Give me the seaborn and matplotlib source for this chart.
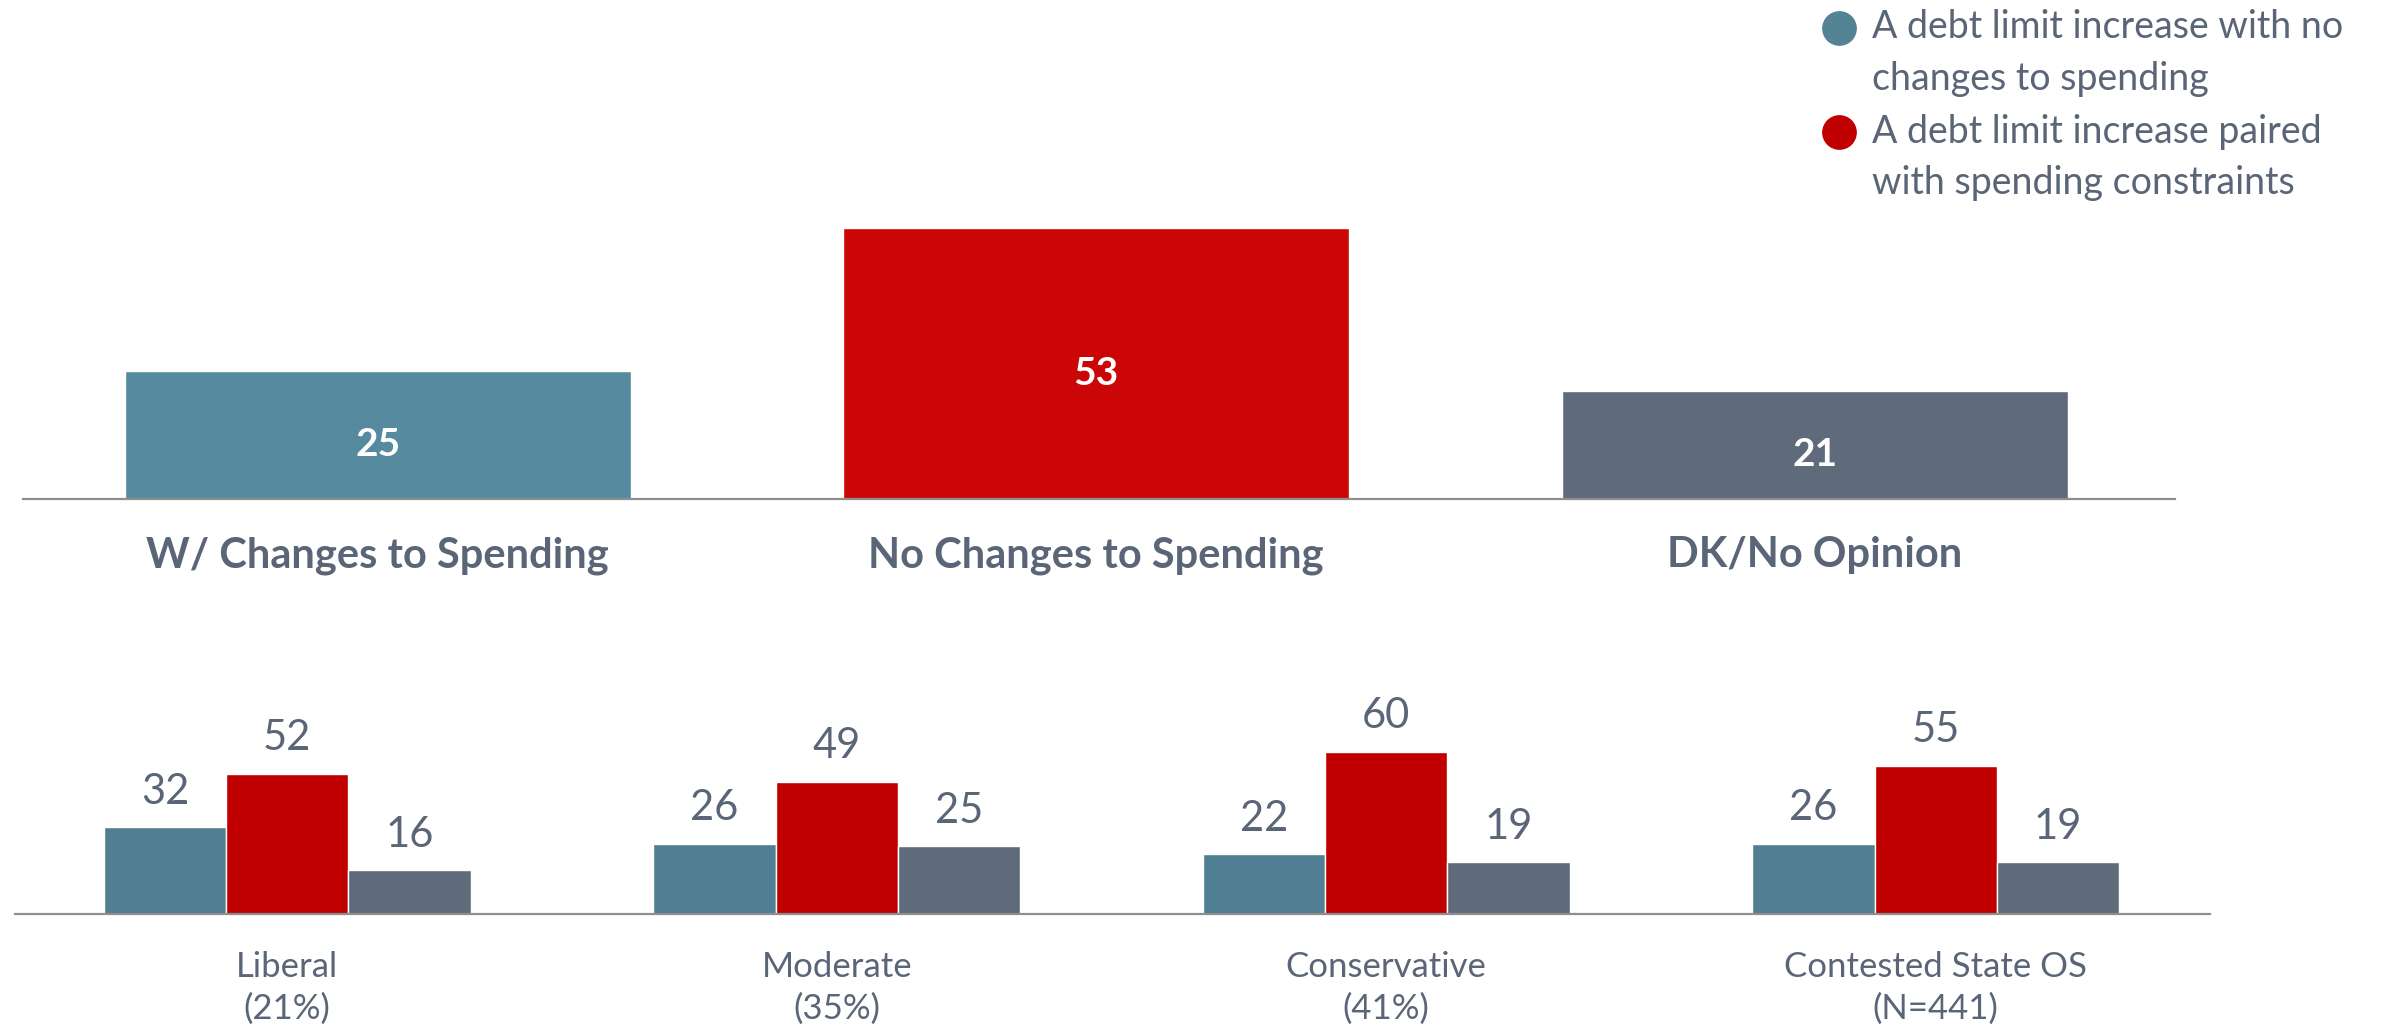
import seaborn as sns
import matplotlib.pyplot as plt
from matplotlib.lines import Line2D
import pandas as pd

sns.set_theme(style="white")
plt.rcParams['font.family'] = ['Lato', 'DejaVu Sans']

# ---- data ----
top_categories = ["W/ Changes to Spending", "No Changes to Spending", "DK/No Opinion"]
top_values = [25, 53, 21]

groups = ["Liberal", "Moderate", "Conservative", "Contested State OS"]
group_notes = ["(21%)", "(35%)", "(41%)", "(N=441)"]
series = ["W/ Changes to Spending", "No Changes to Spending", "DK/No Opinion"]
blue_values = [32, 26, 22, 26]
red_values = [52, 49, 60, 55]
grey_values = [16, 25, 19, 19]

legend_labels = ["A debt limit increase with no\nchanges to spending",
                 "A debt limit increase paired\nwith spending constraints"]

# ---- styles ----
TEXT = "#5A6677"
AXIS = "#8E8E8E"
top_colors = ["#568A9F", "#CC0606", "#5F6B7A"]
bottom_colors = ["#507F93", "#C00000", "#5F6B7A"]
legend_colors = ["#548396", "#C00000"]

fig = plt.figure(figsize=(23.82, 10.26), dpi=100)

#---------------------------------------------
#            TOTAL
#---------------------------------------------
ax1 = fig.add_axes([0.0096, 0.514, 0.9037, 0.2987])
top_df = pd.DataFrame({"cat": top_categories, "val": top_values})
sns.barplot(data=top_df, x="cat", y="val", hue="cat", palette=top_colors,
            width=0.704, saturation=1, legend=False, ax=ax1)
ax1.set_xlim(-0.494, 2.502)
ax1.set_ylim(0, 60)
# labels sit a little below the middle of each bar
for p in ax1.patches:
    ax1.annotate(f"{p.get_height():g}", (p.get_x() + p.get_width() / 2, p.get_height() / 2),
                 xytext=(0, -7), textcoords="offset points", ha="center", va="center",
                 color="white", fontweight="bold", fontsize=28)

#---------------------------------------------
#            BY IDEOLOGY
#---------------------------------------------
ax2 = fig.add_axes([0.0064, 0.1096, 0.9216, 0.2098])
group_labels = [g + "\n" + n for g, n in zip(groups, group_notes)]
bottom_df = pd.DataFrame({
    "group": group_labels * 3,
    "series": [s for s in series for _ in groups],
    "val": blue_values + red_values + grey_values,
})
sns.barplot(data=bottom_df, x="group", y="val", hue="series", hue_order=series,
            palette=bottom_colors, width=0.668, gap=0, saturation=1,
            legend=False, ax=ax2)
ax2.set_xlim(-0.495, 3.5)
ax2.set_ylim(0, 80)
for c in ax2.containers:
    ax2.bar_label(c, padding=12, color=TEXT, fontsize=30)

for ax in (ax1, ax2):
    sns.despine(ax=ax, left=True)
    ax.spines["bottom"].set_color(AXIS)
    ax.spines["bottom"].set_linewidth(1.6)
    ax.set_yticks([])
    ax.set_xlabel("")
    ax.set_ylabel("")

ax1.tick_params(axis="x", length=0, pad=27, labelsize=30, labelcolor=TEXT)
for lab in ax1.get_xticklabels():
    lab.set_fontweight("bold")
ax2.tick_params(axis="x", length=0, pad=27, labelsize=25, labelcolor=TEXT)
for lab in ax2.get_xticklabels():
    lab.set_linespacing(1.35)

#---------------------------------------------
#            LEGEND
#---------------------------------------------
for i, (lab, col) in enumerate(zip(legend_labels, legend_colors)):
    y = 0.973 - i * 0.102
    fig.add_artist(Line2D([0.772], [y], marker="o", markersize=24, color=col,
                          transform=fig.transFigure))
    fig.text(0.786, y - 0.0245, lab, va="center", ha="left", fontsize=27,
             color=TEXT, linespacing=1.53)

plt.savefig("out.png", dpi=100)
